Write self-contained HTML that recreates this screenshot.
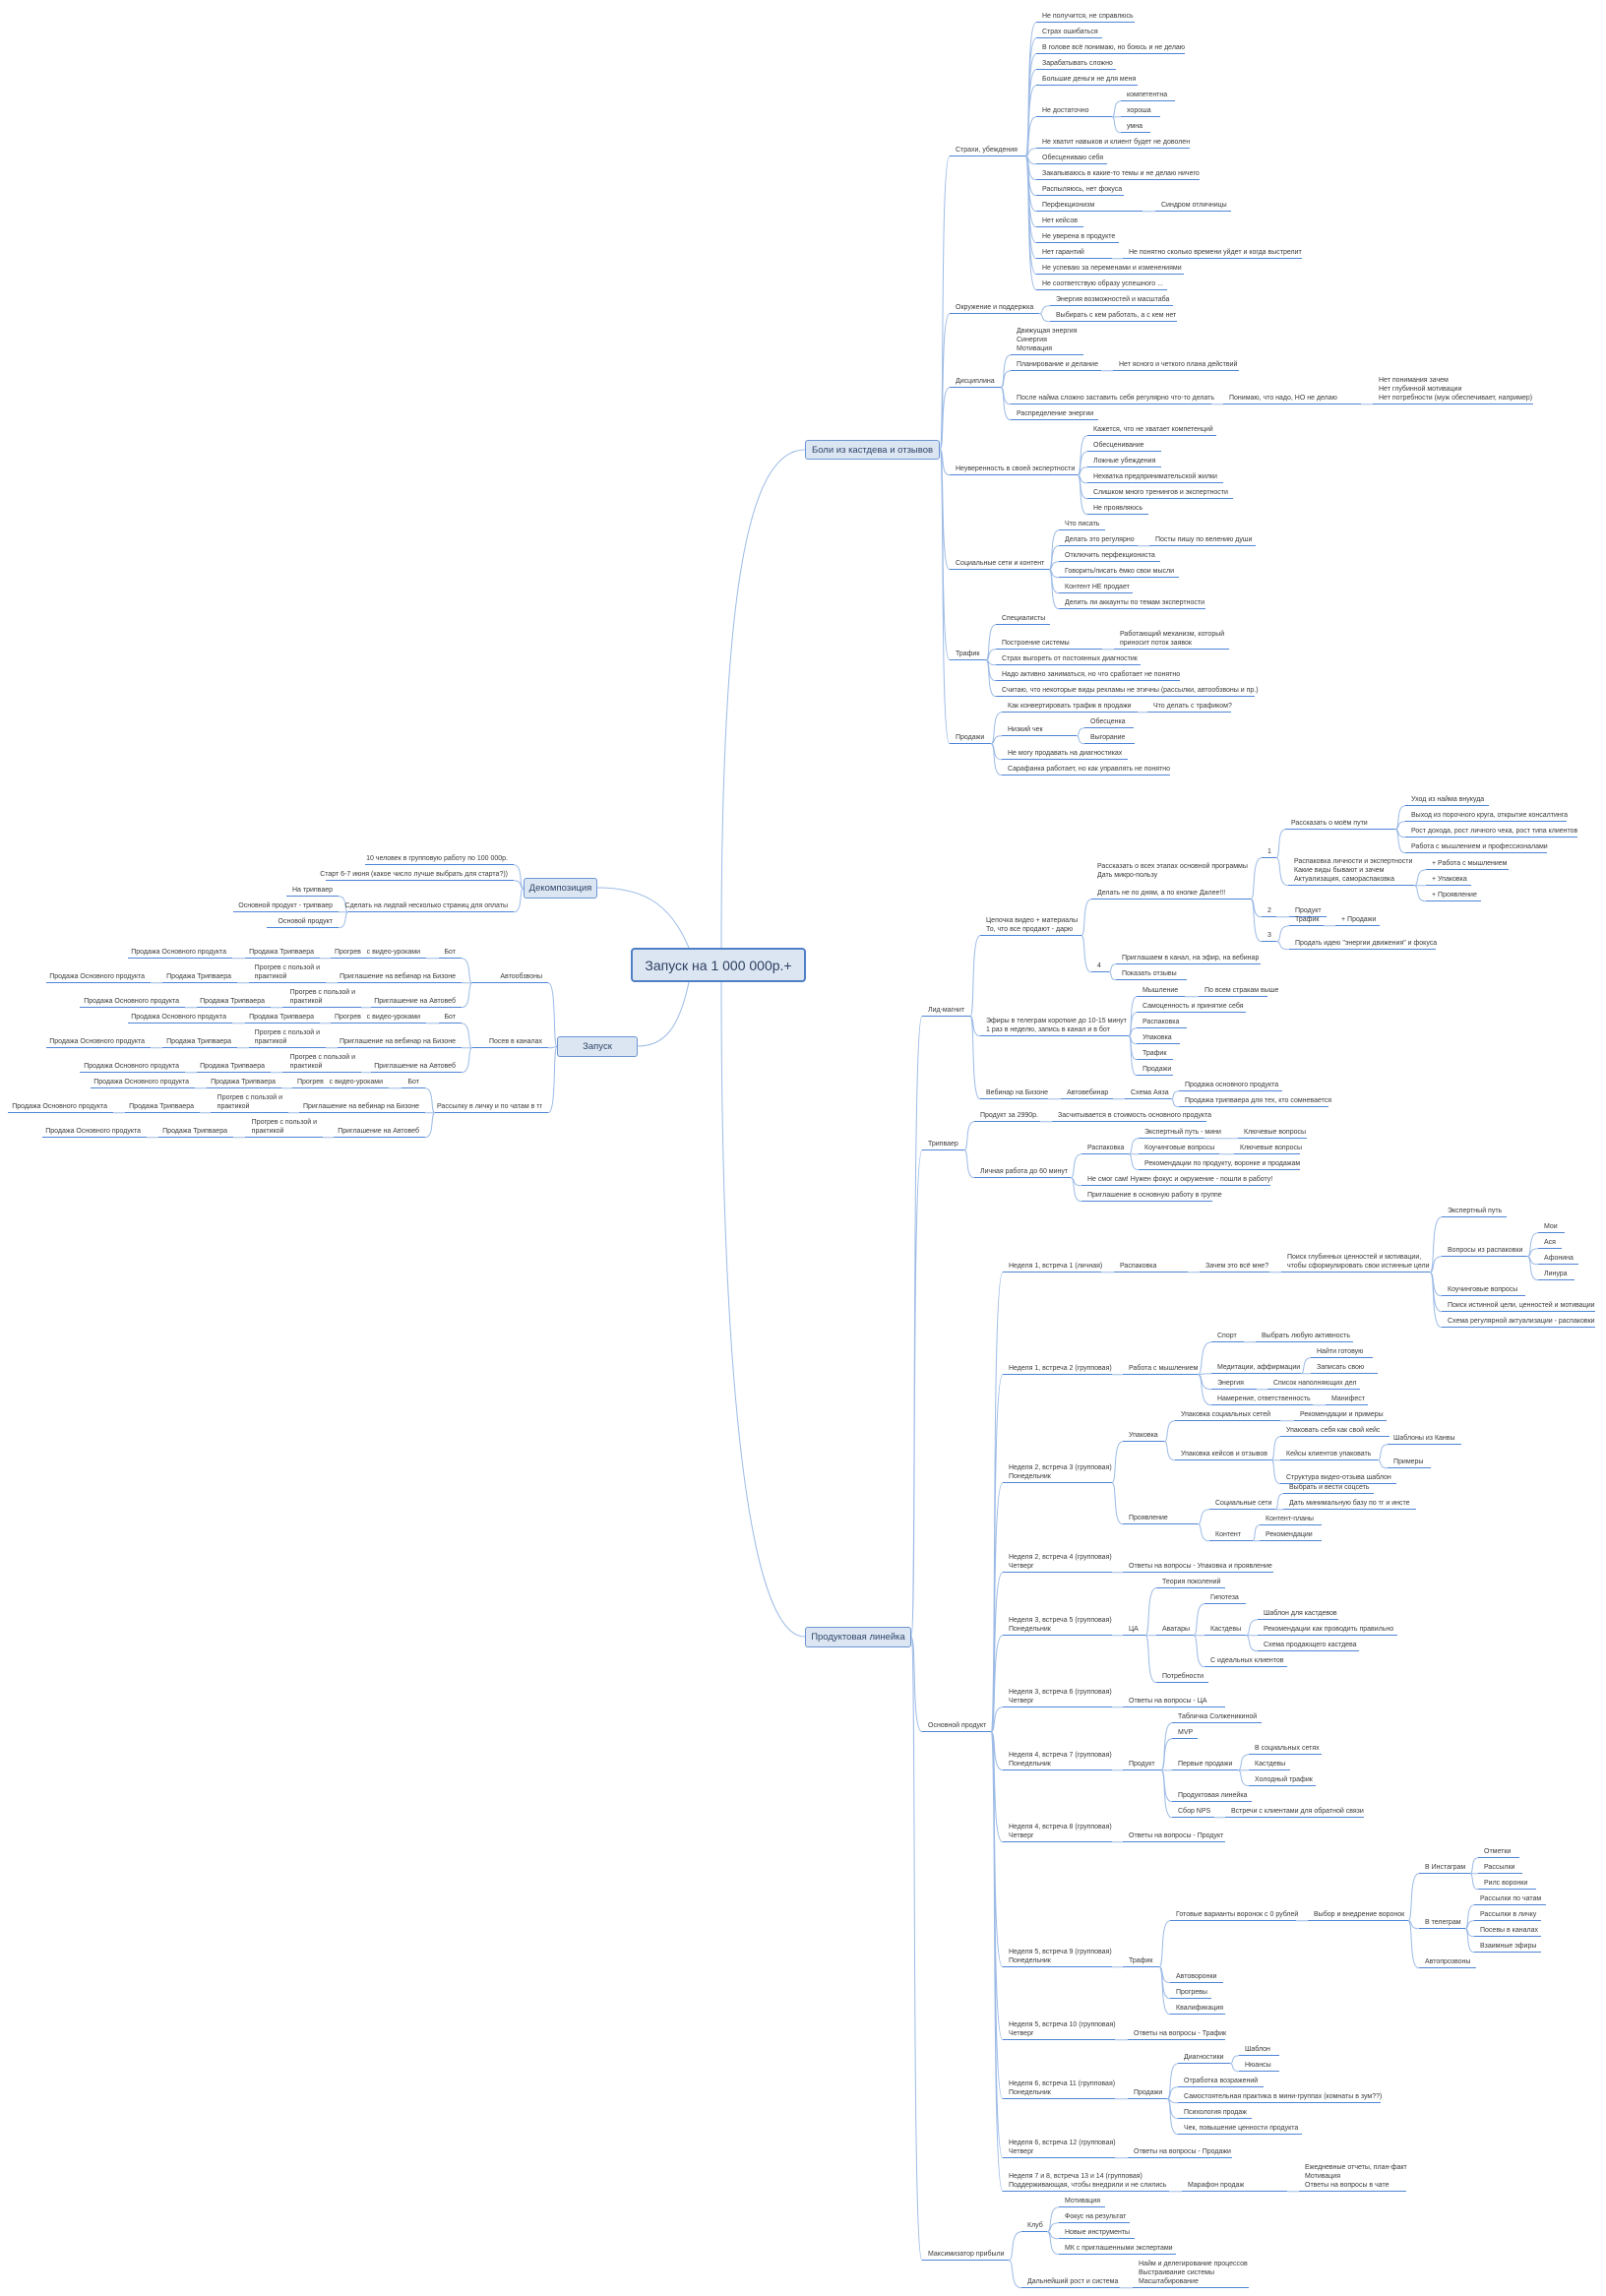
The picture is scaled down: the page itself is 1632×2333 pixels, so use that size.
<!DOCTYPE html>
<html><head><meta charset="utf-8">
<style>
html,body{margin:0;padding:0;background:#fff}
#c{position:relative;width:1632px;height:2333px;overflow:hidden;transform:translateZ(0);background:#fff}
#s{position:absolute;left:0;top:0;width:1632px;height:2333px}
.n{position:fixed;height:0;border-top:1.5px solid #4f84d6}
.n>b{position:absolute;bottom:2px;left:6px;white-space:nowrap;font:normal 7px/9px "Liberation Sans","Noto Sans CJK SC",sans-serif;color:#3a3a3a}
.n.l>b{left:auto;right:6px}
.box{position:fixed;box-sizing:border-box;background:#dce6f3;border:1.5px solid #6b95d3;border-radius:3px;display:flex;align-items:center;justify-content:center;font:9.5px "Liberation Sans","Noto Sans CJK SC",sans-serif;color:#2f4668;white-space:nowrap}
.root{position:absolute;left:641px;top:963px;width:178px;height:35px;box-sizing:border-box;background:#dce6f3;border:2.5px solid #4f7fc4;border-radius:4px;display:flex;align-items:center;justify-content:center;font:14px "Liberation Sans",sans-serif;color:#2f4060}
</style></head><body><div id="c">
<svg id="s" xmlns="http://www.w3.org/2000/svg"><g fill="none" stroke="#9dbbe6" stroke-width="1">
<path d="M733 963 C733 600 760 457 818 457"/>
<path d="M733 998 C733 1400 760 1663 818 1663"/>
<path d="M700 963 C680 915 650 902 607 902"/>
<path d="M700 998 C690 1045 675 1063 648 1063"/>
</g><g id="cn" fill="none" stroke="#9dbbe6" stroke-width="1"></g></svg>
<div class="root">Запуск на 1 000 000р.+</div>

<div class="box" style="left:818px;top:447px;width:137px;height:20px">Боли из кастдева и отзывов
<div class="n" style="left:965px;top:158px;width:77px"><b>Страхи, убеждения</b>
<div class="n" style="left:1053px;top:22px;width:100px"><b>Не получится, не справлюсь</b></div>
<div class="n" style="left:1053px;top:38px;width:67px"><b>Страх ошибаться</b></div>
<div class="n" style="left:1053px;top:54px;width:151px"><b>В голове всё понимаю, но боюсь и не делаю</b></div>
<div class="n" style="left:1053px;top:70px;width:81px"><b>Зарабатывать сложно</b></div>
<div class="n" style="left:1053px;top:86px;width:103px"><b>Большие деньги не для меня</b></div>
<div class="n" style="left:1053px;top:118px;width:77px"><b>Не достаточно</b>
<div class="n" style="left:1139px;top:102px;width:55px"><b>компетентна</b></div>
<div class="n" style="left:1139px;top:118px;width:40px"><b>хороша</b></div>
<div class="n" style="left:1139px;top:134px;width:30px"><b>умна</b></div></div>
<div class="n" style="left:1053px;top:150px;width:156px"><b>Не хватит навыков и клиент будет не доволен</b></div>
<div class="n" style="left:1053px;top:166px;width:72px"><b>Обесцениваю себя</b></div>
<div class="n" style="left:1053px;top:182px;width:166px"><b>Закапываюсь в какие-то темы и не делаю ничего</b></div>
<div class="n" style="left:1053px;top:198px;width:89px"><b>Распыляюсь, нет фокуса</b></div>
<div class="n" style="left:1053px;top:214px;width:108px"><b>Перфекционизм</b>
<div class="n" style="left:1174px;top:214px;width:77px"><b>Синдром отличницы</b></div></div>
<div class="n" style="left:1053px;top:230px;width:48px"><b>Нет кейсов</b></div>
<div class="n" style="left:1053px;top:246px;width:84px"><b>Не уверена в продукте</b></div>
<div class="n" style="left:1053px;top:262px;width:77px"><b>Нет гарантий</b>
<div class="n" style="left:1141px;top:262px;width:182px"><b>Не понятно сколько времени уйдет и когда выстрелит</b></div></div>
<div class="n" style="left:1053px;top:278px;width:150px"><b>Не успеваю за переменами и изменениями</b></div>
<div class="n" style="left:1053px;top:294px;width:133px"><b>Не соответствую образу успешного ...</b></div>
</div>
<div class="n" style="left:965px;top:318px;width:91px"><b>Окружение и поддержка</b>
<div class="n" style="left:1067px;top:310px;width:125px"><b>Энергия возможностей и масштаба</b></div>
<div class="n" style="left:1067px;top:326px;width:129px"><b>Выбирать с кем работать, а с кем нет</b></div></div>
<div class="n" style="left:965px;top:393px;width:52px"><b>Дисциплина</b>
<div class="n" style="left:1027px;top:360px;width:74px"><b>Движущая энергия<br>Синергия<br>Мотивация</b></div>
<div class="n" style="left:1027px;top:376px;width:92px"><b>Планирование и делание</b>
<div class="n" style="left:1131px;top:376px;width:128px"><b>Нет ясного и четкого плана действий</b></div></div>
<div class="n" style="left:1027px;top:410px;width:204px"><b>После найма сложно заставить себя регулярно что-то делать</b>
<div class="n" style="left:1243px;top:410px;width:140px"><b>Понимаю, что надо, НО не делаю</b>
<div class="n" style="left:1395px;top:410px;width:163px"><b>Нет понимания зачем<br>Нет глубинной мотивации<br>Нет потребности (муж обеспечивает, например)</b></div></div></div>
<div class="n" style="left:1027px;top:426px;width:89px"><b>Распределение энергии</b></div></div>
<div class="n" style="left:965px;top:482px;width:130px"><b>Неуверенность в своей экспертности</b>
<div class="n" style="left:1105px;top:442px;width:131px"><b>Кажется, что не хватает компетенций</b></div>
<div class="n" style="left:1105px;top:458px;width:75px"><b>Обесценивание</b></div>
<div class="n" style="left:1105px;top:474px;width:75px"><b>Ложные убеждения</b></div>
<div class="n" style="left:1105px;top:490px;width:138px"><b>Нехватка предпринимательской жилки</b></div>
<div class="n" style="left:1105px;top:506px;width:148px"><b>Слишком много тренингов и экспертности</b></div>
<div class="n" style="left:1105px;top:522px;width:62px"><b>Не проявляюсь</b></div></div>
<div class="n" style="left:965px;top:578px;width:101px"><b>Социальные сети и контент</b>
<div class="n" style="left:1076px;top:538px;width:47px"><b>Что писать</b></div>
<div class="n" style="left:1076px;top:554px;width:80px"><b>Делать это регулярно</b>
<div class="n" style="left:1168px;top:554px;width:108px"><b>Посты пишу по велению души</b></div></div>
<div class="n" style="left:1076px;top:570px;width:103px"><b>Отключить перфекциониста</b></div>
<div class="n" style="left:1076px;top:586px;width:122px"><b>Говорить/писать ёмко свои мысли</b></div>
<div class="n" style="left:1076px;top:602px;width:75px"><b>Контент НЕ продает</b></div>
<div class="n" style="left:1076px;top:618px;width:149px"><b>Делить ли аккаунты по темам экспертности</b></div></div>
<div class="n" style="left:965px;top:670px;width:37px"><b>Трафик</b>
<div class="n" style="left:1012px;top:634px;width:55px"><b>Специалисты</b></div>
<div class="n" style="left:1012px;top:659px;width:108px"><b>Построение системы</b>
<div class="n" style="left:1132px;top:659px;width:117px"><b>Работающий механизм, который<br>приносит поток заявок</b></div></div>
<div class="n" style="left:1012px;top:675px;width:147px"><b>Страх выгореть от постоянных диагностик</b></div>
<div class="n" style="left:1012px;top:691px;width:187px"><b>Надо активно заниматься, но что сработает не понятно</b></div>
<div class="n" style="left:1012px;top:707px;width:263px"><b>Считаю, что некоторые виды рекламы не этичны (рассылки, автообзвоны и пр.)</b></div></div>
<div class="n" style="left:965px;top:755px;width:42px"><b>Продажи</b>
<div class="n" style="left:1018px;top:723px;width:138px"><b>Как конвертировать трафик в продажи</b>
<div class="n" style="left:1166px;top:723px;width:85px"><b>Что делать с трафиком?</b></div></div>
<div class="n" style="left:1018px;top:747px;width:76px"><b>Низкий чек</b>
<div class="n" style="left:1102px;top:739px;width:50px"><b>Обесценка</b></div>
<div class="n" style="left:1102px;top:755px;width:51px"><b>Выгорание</b></div></div>
<div class="n" style="left:1018px;top:771px;width:128px"><b>Не могу продавать  на диагностиках</b></div>
<div class="n" style="left:1018px;top:787px;width:171px"><b>Сарафанка работает, но как управлять не понятно</b></div></div>
</div>

<div class="box" style="left:532px;top:892px;width:75px;height:21px">Декомпозиция
<div class="n l" style="left:371px;top:878px;width:151px"><b>10 человек в групповую работу по 100 000р.</b></div>
<div class="n l" style="left:331px;top:894px;width:191px"><b>Старт 6-7 июня (какое число лучше выбрать для старта?))</b></div>
<div class="n l" style="left:354px;top:926px;width:168px"><b>Сделать на лидпай несколько страниц для оплаты</b>
<div class="n l" style="left:291px;top:910px;width:53px"><b>На трипваер</b></div>
<div class="n l" style="left:237px;top:926px;width:107px"><b>Основной продукт - трипваер</b></div>
<div class="n l" style="left:271px;top:942px;width:73px"><b>Основой продукт</b></div></div>
</div>

<div class="box" style="left:566px;top:1053px;width:82px;height:21px">Запуск
<div class="n l" style="left:480px;top:998px;width:77px"><b>Автообзвоны</b>
<div class="n l" style="left:446px;top:973px;width:23px"><b>Бот</b>
<div class="n l" style="left:336px;top:973px;width:97px"><b>Прогрев &nbsp; с видео-уроками</b>
<div class="n l" style="left:249px;top:973px;width:76px"><b>Продажа Трипваера</b>
<div class="n l" style="left:130px;top:973px;width:106px"><b>Продажа Основного продукта</b></div></div></div></div>
<div class="n l" style="left:343px;top:998px;width:126px"><b>Приглашение на вебинар на Бизоне</b>
<div class="n l" style="left:253px;top:998px;width:78px"><b>Прогрев с пользой и<br>практикой</b>
<div class="n l" style="left:165px;top:998px;width:76px"><b>Продажа Трипваера</b>
<div class="n l" style="left:47px;top:998px;width:106px"><b>Продажа Основного продукта</b></div></div></div></div>
<div class="n l" style="left:377px;top:1023px;width:92px"><b>Приглашение на Автовеб</b>
<div class="n l" style="left:287px;top:1023px;width:80px"><b>Прогрев с пользой и<br>практикой</b>
<div class="n l" style="left:200px;top:1023px;width:75px"><b>Продажа Трипваера</b>
<div class="n l" style="left:81px;top:1023px;width:107px"><b>Продажа Основного продукта</b></div></div></div></div>
</div>
<div class="n l" style="left:480px;top:1064px;width:77px"><b>Посев в каналах</b>
<div class="n l" style="left:446px;top:1039px;width:23px"><b>Бот</b>
<div class="n l" style="left:336px;top:1039px;width:97px"><b>Прогрев &nbsp; с видео-уроками</b>
<div class="n l" style="left:249px;top:1039px;width:76px"><b>Продажа Трипваера</b>
<div class="n l" style="left:130px;top:1039px;width:106px"><b>Продажа Основного продукта</b></div></div></div></div>
<div class="n l" style="left:343px;top:1064px;width:126px"><b>Приглашение на вебинар на Бизоне</b>
<div class="n l" style="left:253px;top:1064px;width:78px"><b>Прогрев с пользой и<br>практикой</b>
<div class="n l" style="left:165px;top:1064px;width:76px"><b>Продажа Трипваера</b>
<div class="n l" style="left:47px;top:1064px;width:106px"><b>Продажа Основного продукта</b></div></div></div></div>
<div class="n l" style="left:377px;top:1089px;width:92px"><b>Приглашение на Автовеб</b>
<div class="n l" style="left:287px;top:1089px;width:80px"><b>Прогрев с пользой и<br>практикой</b>
<div class="n l" style="left:200px;top:1089px;width:75px"><b>Продажа Трипваера</b>
<div class="n l" style="left:81px;top:1089px;width:107px"><b>Продажа Основного продукта</b></div></div></div></div>
</div>
<div class="n l" style="left:442px;top:1130px;width:115px"><b>Рассылку в личку и по чатам в тг</b>
<div class="n l" style="left:408px;top:1105px;width:24px"><b>Бот</b>
<div class="n l" style="left:297px;top:1105px;width:98px"><b>Прогрев &nbsp; с видео-уроками</b>
<div class="n l" style="left:210px;top:1105px;width:76px"><b>Продажа Трипваера</b>
<div class="n l" style="left:92px;top:1105px;width:106px"><b>Продажа Основного продукта</b></div></div></div></div>
<div class="n l" style="left:304px;top:1130px;width:128px"><b>Приглашение на вебинар на Бизоне</b>
<div class="n l" style="left:214px;top:1130px;width:79px"><b>Прогрев с пользой и<br>практикой</b>
<div class="n l" style="left:127px;top:1130px;width:76px"><b>Продажа Трипваера</b>
<div class="n l" style="left:8px;top:1130px;width:107px"><b>Продажа Основного продукта</b></div></div></div></div>
<div class="n l" style="left:339px;top:1155px;width:93px"><b>Приглашение на Автовеб</b>
<div class="n l" style="left:249px;top:1155px;width:79px"><b>Прогрев с пользой и<br>практикой</b>
<div class="n l" style="left:161px;top:1155px;width:76px"><b>Продажа Трипваера</b>
<div class="n l" style="left:43px;top:1155px;width:106px"><b>Продажа Основного продукта</b></div></div></div></div>
</div>
</div>

<div class="box" style="left:818px;top:1653px;width:108px;height:21px">Продуктовая линейка
<div class="n" style="left:937px;top:1032px;width:49px"><b>Лид-магнит</b>
<div class="n" style="left:996px;top:950px;width:103px"><b>Цепочка видео + материалы<br>То, что все продают - дарю</b>
<div class="n" style="left:1109px;top:913px;width:162px"><b>Рассказать о всех этапах основной программы<br>Дать микро-пользу<br><br>Делать не по дням, а по кнопке Далее!!!</b>
<div class="n" style="left:1282px;top:871px;width:15px"><b>1</b>
<div class="n" style="left:1306px;top:842px;width:112px"><b>Рассказать о моём пути</b>
<div class="n" style="left:1428px;top:818px;width:85px"><b>Уход из найма внукуда</b></div>
<div class="n" style="left:1428px;top:834px;width:164px"><b>Выход из порочного круга, открытие консалтинга</b></div>
<div class="n" style="left:1428px;top:850px;width:175px"><b>Рост дохода, рост личного чека, рост типа клиентов</b></div>
<div class="n" style="left:1428px;top:866px;width:144px"><b>Работа с мышлением и профессионалами</b></div></div>
<div class="n" style="left:1309px;top:899px;width:128px"><b>Распаковка личности и экспертности<br>Какие виды бывают и зачем<br>Актуализация, самораспаковка</b>
<div class="n" style="left:1449px;top:883px;width:84px"><b>+ Работа с мышлением</b></div>
<div class="n" style="left:1449px;top:899px;width:46px"><b>+ Упаковка</b></div>
<div class="n" style="left:1449px;top:915px;width:56px"><b>+ Проявление</b></div></div></div>
<div class="n" style="left:1282px;top:931px;width:15px"><b>2</b>
<div class="n" style="left:1310px;top:931px;width:38px"><b>Продукт</b></div></div>
<div class="n" style="left:1282px;top:956px;width:15px"><b>3</b>
<div class="n" style="left:1310px;top:940px;width:35px"><b>Трафик</b>
<div class="n" style="left:1357px;top:940px;width:45px"><b>+ Продажи</b></div></div>
<div class="n" style="left:1310px;top:964px;width:149px"><b>Продать идею "энергии движения" и фокуса</b></div></div>
</div>
<div class="n" style="left:1109px;top:987px;width:18px"><b>4</b>
<div class="n" style="left:1134px;top:979px;width:147px"><b>Приглашаем в канал, на эфир, на вебинар</b></div>
<div class="n" style="left:1134px;top:995px;width:72px"><b>Показать отзывы</b></div></div>
</div>
<div class="n" style="left:996px;top:1052px;width:151px"><b>Эфиры в телеграм короткие до 10-15 минут<br>1 раз в неделю, запись в канал и в бот</b>
<div class="n" style="left:1155px;top:1012px;width:49px"><b>Мышление</b>
<div class="n" style="left:1218px;top:1012px;width:70px"><b>По всем стракам выше</b></div></div>
<div class="n" style="left:1155px;top:1028px;width:111px"><b>Самоценность и принятие себя</b></div>
<div class="n" style="left:1155px;top:1044px;width:51px"><b>Распаковка</b></div>
<div class="n" style="left:1155px;top:1060px;width:44px"><b>Упаковка</b></div>
<div class="n" style="left:1155px;top:1076px;width:37px"><b>Трафик</b></div>
<div class="n" style="left:1155px;top:1092px;width:37px"><b>Продажи</b></div></div>
<div class="n" style="left:996px;top:1116px;width:69px"><b>Вебинар на Бизоне</b>
<div class="n" style="left:1078px;top:1116px;width:53px"><b>Автовебинар</b>
<div class="n" style="left:1143px;top:1116px;width:47px"><b>Схема Аяза</b>
<div class="n" style="left:1198px;top:1108px;width:105px"><b>Продажа основного продукта</b></div>
<div class="n" style="left:1198px;top:1124px;width:152px"><b>Продажа трипваера для тех, кто сомневается</b></div></div></div></div>
</div>
<div class="n" style="left:937px;top:1168px;width:43px"><b>Трипваер</b>
<div class="n" style="left:990px;top:1139px;width:67px"><b>Продукт за 2990р.</b>
<div class="n" style="left:1069px;top:1139px;width:157px"><b>Засчитывается в стоимость основного продукта</b></div></div>
<div class="n" style="left:990px;top:1196px;width:98px"><b>Личная работа до 60 минут</b>
<div class="n" style="left:1099px;top:1172px;width:48px"><b>Распаковка</b>
<div class="n" style="left:1157px;top:1156px;width:67px"><b>Экспертный путь - мини</b>
<div class="n" style="left:1258px;top:1156px;width:70px"><b>Ключевые вопросы</b></div></div>
<div class="n" style="left:1157px;top:1172px;width:82px"><b>Коучинговые вопросы</b>
<div class="n" style="left:1254px;top:1172px;width:67px"><b>Ключевые вопросы</b></div></div>
<div class="n" style="left:1157px;top:1188px;width:164px"><b>Рекомендации по продукту, воронке и продажам</b></div></div>
<div class="n" style="left:1099px;top:1204px;width:192px"><b>Не смог сам! Нужен фокус и окружение - пошли в работу!</b></div>
<div class="n" style="left:1099px;top:1220px;width:133px"><b>Приглашение в основную работу в группе</b></div></div>
</div>
<div class="n" style="left:937px;top:1759px;width:70px"><b>Основной продукт</b>
<div class="n" style="left:1019px;top:1292px;width:100px"><b>Неделя 1, встреча 1 (личная)</b>
<div class="n" style="left:1132px;top:1292px;width:75px"><b>Распаковка</b>
<div class="n" style="left:1219px;top:1292px;width:71px"><b>Зачем это всё мне?</b>
<div class="n" style="left:1302px;top:1292px;width:151px"><b>Поиск глубинных ценностей и мотивации,<br>чтобы сформулировать свои истинные цели</b>
<div class="n" style="left:1465px;top:1236px;width:66px"><b>Экспертный путь</b></div>
<div class="n" style="left:1465px;top:1276px;width:87px"><b>Вопросы из распаковки</b>
<div class="n" style="left:1563px;top:1252px;width:27px"><b>Мои</b></div>
<div class="n" style="left:1563px;top:1268px;width:24px"><b>Ася</b></div>
<div class="n" style="left:1563px;top:1284px;width:41px"><b>Афонина</b></div>
<div class="n" style="left:1563px;top:1300px;width:37px"><b>Линура</b></div></div>
<div class="n" style="left:1465px;top:1316px;width:85px"><b>Коучинговые вопросы</b></div>
<div class="n" style="left:1465px;top:1332px;width:156px"><b>Поиск истинной цели, ценностей и мотивации</b></div>
<div class="n" style="left:1465px;top:1348px;width:156px"><b>Схема регулярной актуализации - распаковки</b></div>
</div></div></div></div>
<div class="n" style="left:1019px;top:1396px;width:111px"><b>Неделя 1, встреча 2 (групповая)</b>
<div class="n" style="left:1141px;top:1396px;width:76px"><b>Работа с мышлением</b>
<div class="n" style="left:1231px;top:1363px;width:33px"><b>Спорт</b>
<div class="n" style="left:1276px;top:1363px;width:99px"><b>Выбрать любую активность</b></div></div>
<div class="n" style="left:1231px;top:1395px;width:91px"><b>Медитации, аффирмации</b>
<div class="n" style="left:1332px;top:1379px;width:63px"><b>Найти готовую</b></div>
<div class="n" style="left:1332px;top:1395px;width:68px"><b>Записать свою</b></div></div>
<div class="n" style="left:1231px;top:1411px;width:46px"><b>Энергия</b>
<div class="n" style="left:1288px;top:1411px;width:94px"><b>Список наполняющих дел</b></div></div>
<div class="n" style="left:1231px;top:1427px;width:103px"><b>Намерение, ответственность</b>
<div class="n" style="left:1347px;top:1427px;width:43px"><b>Манифест</b></div></div>
</div></div>
<div class="n" style="left:1019px;top:1506px;width:111px"><b>Неделя 2, встреча 3 (групповая)<br>Понедельник</b>
<div class="n" style="left:1141px;top:1464px;width:42px"><b>Упаковка</b>
<div class="n" style="left:1194px;top:1443px;width:107px"><b>Упаковка социальных сетей</b>
<div class="n" style="left:1315px;top:1443px;width:94px"><b>Рекомендации и примеры</b></div></div>
<div class="n" style="left:1194px;top:1483px;width:98px"><b>Упаковка кейсов и отзывов</b>
<div class="n" style="left:1301px;top:1459px;width:111px"><b>Упаковать себя как свой кейс</b></div>
<div class="n" style="left:1301px;top:1483px;width:99px"><b>Кейсы клиентов упаковать</b>
<div class="n" style="left:1410px;top:1467px;width:75px"><b>Шаблоны из Канвы</b></div>
<div class="n" style="left:1410px;top:1491px;width:44px"><b>Примеры</b></div></div>
<div class="n" style="left:1301px;top:1507px;width:118px"><b>Структура видео-отзыва шаблон</b></div></div></div>
<div class="n" style="left:1141px;top:1548px;width:76px"><b>Проявление</b>
<div class="n" style="left:1229px;top:1533px;width:67px"><b>Социальные сети</b>
<div class="n" style="left:1304px;top:1517px;width:92px"><b>Выбрать и вести соцсеть</b></div>
<div class="n" style="left:1304px;top:1533px;width:135px"><b>Дать минимальную базу по тг и инсте</b></div></div>
<div class="n" style="left:1229px;top:1565px;width:44px"><b>Контент</b>
<div class="n" style="left:1280px;top:1549px;width:63px"><b>Контент-планы</b></div>
<div class="n" style="left:1280px;top:1565px;width:63px"><b>Рекомендации</b></div></div></div>
</div>
<div class="n" style="left:1019px;top:1597px;width:111px"><b>Неделя 2, встреча 4 (групповая)<br>Четверг</b>
<div class="n" style="left:1141px;top:1597px;width:153px"><b>Ответы на вопросы - Упаковка и проявление</b></div></div>
<div class="n" style="left:1019px;top:1661px;width:111px"><b>Неделя 3, встреча 5 (групповая)<br>Понедельник</b>
<div class="n" style="left:1141px;top:1661px;width:23px"><b>ЦА</b>
<div class="n" style="left:1175px;top:1613px;width:70px"><b>Теория поколений</b></div>
<div class="n" style="left:1175px;top:1661px;width:38px"><b>Аватары</b>
<div class="n" style="left:1224px;top:1629px;width:42px"><b>Гипотеза</b></div>
<div class="n" style="left:1224px;top:1661px;width:42px"><b>Кастдевы</b>
<div class="n" style="left:1278px;top:1645px;width:82px"><b>Шаблон для кастдевов</b></div>
<div class="n" style="left:1278px;top:1661px;width:142px"><b>Рекомендации как проводить правильно</b></div>
<div class="n" style="left:1278px;top:1677px;width:103px"><b>Схема продающего кастдева</b></div></div>
<div class="n" style="left:1224px;top:1693px;width:84px"><b>С идеальных клиентов</b></div></div>
<div class="n" style="left:1175px;top:1709px;width:53px"><b>Потребности</b></div></div></div>
<div class="n" style="left:1019px;top:1734px;width:111px"><b>Неделя 3, встреча 6 (групповая)<br>Четверг</b>
<div class="n" style="left:1141px;top:1734px;width:104px"><b>Ответы на вопросы - ЦА</b></div></div>
<div class="n" style="left:1019px;top:1798px;width:111px"><b>Неделя 4, встреча 7 (групповая)<br>Понедельник</b>
<div class="n" style="left:1141px;top:1798px;width:39px"><b>Продукт</b>
<div class="n" style="left:1191px;top:1750px;width:91px"><b>Табличка Солженикиной</b></div>
<div class="n" style="left:1191px;top:1766px;width:26px"><b>MVP</b></div>
<div class="n" style="left:1191px;top:1798px;width:67px"><b>Первые продажи</b>
<div class="n" style="left:1269px;top:1782px;width:74px"><b>В социальных сетях</b></div>
<div class="n" style="left:1269px;top:1798px;width:42px"><b>Кастдевы</b></div>
<div class="n" style="left:1269px;top:1814px;width:68px"><b>Холодный трафик</b></div></div>
<div class="n" style="left:1191px;top:1830px;width:81px"><b>Продуктовая линейка</b></div>
<div class="n" style="left:1191px;top:1846px;width:43px"><b>Сбор NPS</b>
<div class="n" style="left:1245px;top:1846px;width:141px"><b>Встречи с клиентами для обратной связи</b></div></div></div></div>
<div class="n" style="left:1019px;top:1871px;width:111px"><b>Неделя 4, встреча 8 (групповая)<br>Четверг</b>
<div class="n" style="left:1141px;top:1871px;width:104px"><b>Ответы на вопросы - Продукт</b></div></div>
<div class="n" style="left:1019px;top:1998px;width:111px"><b>Неделя 5, встреча 9 (групповая)<br>Понедельник</b>
<div class="n" style="left:1141px;top:1998px;width:37px"><b>Трафик</b>
<div class="n" style="left:1189px;top:1951px;width:128px"><b>Готовые варианты воронок с 0 рублей</b>
<div class="n" style="left:1329px;top:1951px;width:102px"><b>Выбор и внедрение воронок</b>
<div class="n" style="left:1442px;top:1903px;width:52px"><b>В Инстаграм</b>
<div class="n" style="left:1502px;top:1887px;width:42px"><b>Отметки</b></div>
<div class="n" style="left:1502px;top:1903px;width:45px"><b>Рассылки</b></div>
<div class="n" style="left:1502px;top:1919px;width:59px"><b>Рилс воронки</b></div></div>
<div class="n" style="left:1442px;top:1959px;width:47px"><b>В телеграм</b>
<div class="n" style="left:1498px;top:1935px;width:73px"><b>Рассылки по чатам</b></div>
<div class="n" style="left:1498px;top:1951px;width:68px"><b>Рассылки в личку</b></div>
<div class="n" style="left:1498px;top:1967px;width:68px"><b>Посевы в каналах</b></div>
<div class="n" style="left:1498px;top:1983px;width:68px"><b>Взаимные эфиры</b></div></div>
<div class="n" style="left:1442px;top:1999px;width:58px"><b>Автопрозвоны</b></div>
</div></div>
<div class="n" style="left:1189px;top:2014px;width:54px"><b>Автоворонки</b></div>
<div class="n" style="left:1189px;top:2030px;width:42px"><b>Прогревы</b></div>
<div class="n" style="left:1189px;top:2046px;width:56px"><b>Квалификация</b></div>
</div></div>
<div class="n" style="left:1019px;top:2072px;width:114px"><b>Неделя 5, встреча 10 (групповая)<br>Четверг</b>
<div class="n" style="left:1146px;top:2072px;width:99px"><b>Ответы на вопросы - Трафик</b></div></div>
<div class="n" style="left:1019px;top:2132px;width:114px"><b>Неделя 6, встреча 11 (групповая)<br>Понедельник</b>
<div class="n" style="left:1146px;top:2132px;width:40px"><b>Продажи</b>
<div class="n" style="left:1197px;top:2096px;width:53px"><b>Диагностики</b>
<div class="n" style="left:1259px;top:2088px;width:41px"><b>Шаблон</b></div>
<div class="n" style="left:1259px;top:2104px;width:41px"><b>Нюансы</b></div></div>
<div class="n" style="left:1197px;top:2120px;width:87px"><b>Отработка возражений</b></div>
<div class="n" style="left:1197px;top:2136px;width:206px"><b>Самостоятельная практика в мини-группах (комнаты в зум??)</b></div>
<div class="n" style="left:1197px;top:2152px;width:75px"><b>Психология продаж</b></div>
<div class="n" style="left:1197px;top:2168px;width:126px"><b>Чек, повышение ценности продукта</b></div></div></div>
<div class="n" style="left:1019px;top:2192px;width:114px"><b>Неделя 6, встреча 12 (групповая)<br>Четверг</b>
<div class="n" style="left:1146px;top:2192px;width:106px"><b>Ответы на вопросы - Продажи</b></div></div>
<div class="n" style="left:1019px;top:2226px;width:169px"><b>Неделя 7 и 8, встреча 13 и 14 (групповая)<br>Поддерживающая, чтобы внедрили и не слились</b>
<div class="n" style="left:1201px;top:2226px;width:107px"><b>Марафон продаж</b>
<div class="n" style="left:1320px;top:2226px;width:109px"><b>Ежедневные отчеты, план-факт<br>Мотивация<br>Ответы на вопросы в чате</b></div></div></div>
</div>
<div class="n" style="left:937px;top:2296px;width:88px"><b>Максимизатор прибыли</b>
<div class="n" style="left:1038px;top:2267px;width:26px"><b>Клуб</b>
<div class="n" style="left:1076px;top:2242px;width:47px"><b>Мотивация</b></div>
<div class="n" style="left:1076px;top:2258px;width:72px"><b>Фокус на результат</b></div>
<div class="n" style="left:1076px;top:2274px;width:77px"><b>Новые инструменты</b></div>
<div class="n" style="left:1076px;top:2290px;width:119px"><b>МК с приглашенными экспертами</b></div></div>
<div class="n" style="left:1038px;top:2324px;width:100px"><b>Дальнейший рост и система</b>
<div class="n" style="left:1151px;top:2324px;width:118px"><b>Найм и делегирование процессов<br>Выстраивание системы<br>Масштабирование</b></div></div>
</div>
</div>
</div>
<script>
(function(){
var g=document.getElementById('cn'),d='',circ='';
var nodes=document.querySelectorAll('.n');
for(var i=0;i<nodes.length;i++){
 var n=nodes[i],p=n.parentElement.closest('.n,.box');if(!p)continue;
 var r=p.getBoundingClientRect(),c=n.getBoundingClientRect(),px,py,cx,cy;
 cy=c.top+0.75;
 if(p.classList.contains('box')){
  py=r.top+r.height/2;
  if(c.left>r.left){px=r.right;cx=c.left;}else{px=r.left;cx=c.right;}
 }else{
  py=r.top+0.75;
  if(c.left>=r.right-12){px=r.right;cx=c.left;}else{px=r.left;cx=c.right;}
 }
 var m=(px+cx)/2;
 d+='M'+px+' '+py+'C'+m+' '+py+' '+px+' '+cy+' '+cx+' '+cy;
}
g.innerHTML='<path d="'+d+'"/>';
})();
</script>
</body></html>
